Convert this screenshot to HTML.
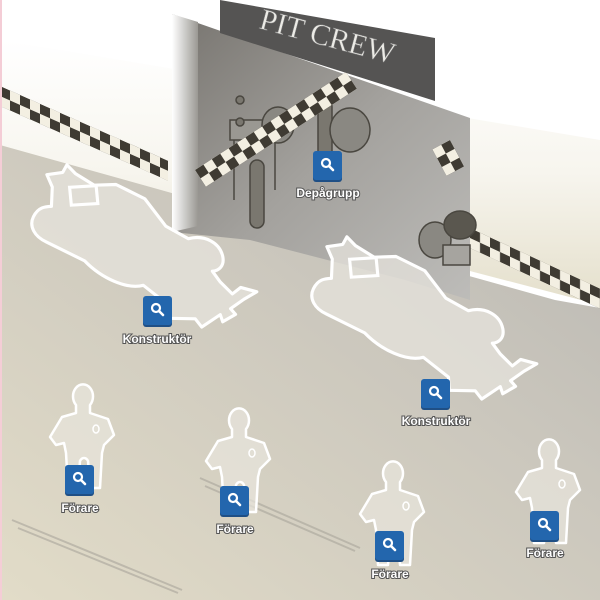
<!DOCTYPE html>
<html><head><meta charset="utf-8"><style>
html,body{margin:0;padding:0;width:600px;height:600px;overflow:hidden;background:#fff}
svg{display:block}
.lbl{font-family:"Liberation Sans",sans-serif;font-size:12px;font-weight:bold;fill:#fff;text-anchor:middle;paint-order:stroke;stroke:#555;stroke-width:2px}
</style></head><body>
<svg width="600" height="600" viewBox="0 0 600 600">
<defs>
<linearGradient id="floor" x1="0" y1="1" x2="1" y2="0">
<stop offset="0" stop-color="#e2dcc8"/><stop offset="0.6" stop-color="#cbc7bd"/><stop offset="1" stop-color="#b9b7b2"/>
</linearGradient>
<linearGradient id="wall" x1="0" y1="0" x2="0" y2="1">
<stop offset="0" stop-color="#fff"/><stop offset="0.5" stop-color="#f7f5ee"/><stop offset="1" stop-color="#e4dfcb"/>
</linearGradient>
<linearGradient id="gar" x1="0" y1="0" x2="1" y2="1">
<stop offset="0" stop-color="#77746f"/><stop offset="0.5" stop-color="#a3a19d"/><stop offset="1" stop-color="#bdbcb9"/>
</linearGradient>
<linearGradient id="lw" x1="0" y1="0" x2="1" y2="0">
<stop offset="0" stop-color="#fff"/><stop offset="1" stop-color="#9a9893"/>
</linearGradient>
<pattern id="chk" width="20" height="20" patternUnits="userSpaceOnUse">
<rect width="20" height="20" fill="#f3efe2"/><rect width="10" height="10" fill="#3f3b33"/><rect x="10" y="10" width="10" height="10" fill="#3f3b33"/>
</pattern>
<g id="btn"><rect x="-14" y="-12" width="29" height="29" rx="3" fill="#1f4f85"/><rect x="-14" y="-14" width="29" height="29" rx="3" fill="#2366ad"/>
<circle cx="-1" cy="-2" r="4" fill="none" stroke="#fff" stroke-width="2.2"/><line x1="2" y1="1" x2="6" y2="5" stroke="#fff" stroke-width="2.6" stroke-linecap="round"/></g>
<g id="man"><path d="M-6,22 L-6,30 L-20,34 L-32,54 L-26,62 L-18,60 L-16,70 L-14,105 L-4,105 L-2,78 C0,74 4,74 6,78 L8,105 L18,105 L20,70 L22,62 L32,52 L26,36 L8,30 L8,22 A10,12 0 1 0 -6,22Z" fill="#e8e5dd" fill-opacity="0.7" stroke="#fff" stroke-width="2.5" stroke-linejoin="round"/><ellipse cx="14" cy="46" rx="3" ry="4" fill="none" stroke="#fff" stroke-width="1.5"/></g>
<g id="car"><path d="M-120,-50 l14,-6 l2,-8 l10,6 l20,6 l20,-6 l30,6 l26,20 l24,6 c14,-8 30,-4 36,8 c4,8 0,14 -6,16 l10,8 l14,8 l6,-8 l16,0 l-10,10 l-10,12 l6,4 l-10,10 l-4,-6 l-14,16 l-8,-6 l-24,6 l-4,-12 l-28,-12 c-14,8 -40,4 -60,-8 l-40,-8 c-12,-2 -20,-10 -18,-20 c2,-10 8,-12 14,-14 l-4,-18z" fill="#e6e3dc" fill-opacity="0.75" stroke="#fff" stroke-width="3" stroke-linejoin="round"/><path d="M-96,-44 l24,-8 l6,16 l-24,8z" fill="none" stroke="#fff" stroke-width="3"/></g>
</defs>
<rect width="600" height="600" fill="#fff"/>
<polygon points="0,40 600,140 600,305 0,148" fill="url(#wall)"/>
<polygon points="0,145 555,300 600,308 600,600 0,600" fill="url(#floor)"/>
<g transform="translate(0,86) skewY(24)"><rect x="0" y="0" width="168" height="20" fill="url(#chk)"/></g>
<g transform="translate(470,228) skewY(25)"><rect x="0" y="0" width="135" height="20" fill="url(#chk)"/></g>
<polygon points="172,14 470,118 470,300 405,280 250,240 172,232" fill="url(#gar)"/>
<polygon points="172,14 198,22 198,226 172,232" fill="url(#lw)"/>
<g stroke="#4a4740" fill="#7a776f" stroke-width="1.5">
<rect x="230" y="120" width="50" height="20" fill="#9a9892"/>
<line x1="234" y1="140" x2="234" y2="200"/><line x1="275" y1="140" x2="275" y2="190"/>
<rect x="250" y="160" width="14" height="68" rx="7"/>
<rect x="318" y="100" width="14" height="60" rx="7"/>
<ellipse cx="278" cy="125" rx="16" ry="18" fill="#8a8882"/>
<ellipse cx="350" cy="130" rx="20" ry="22" fill="#8a8882"/>
<ellipse cx="435" cy="240" rx="16" ry="18" fill="#8a8882"/>
<ellipse cx="460" cy="225" rx="16" ry="14" fill="#5a574f"/>
<rect x="443" y="245" width="27" height="20" fill="#a6a49f"/>
<circle cx="240" cy="100" r="4"/><circle cx="240" cy="122" r="4"/>
</g>
<g transform="translate(195,170) rotate(-33)"><rect x="0" y="0" width="180" height="20" fill="url(#chk)"/></g>
<g transform="translate(450,140) rotate(62)"><rect x="0" y="0" width="30" height="20" fill="url(#chk)"/></g>
<polygon points="220,0 435,38 435,101 220,33" fill="#555453"/>
<text x="0" y="0" transform="translate(258,28) rotate(15)" font-family="Liberation Serif,serif" font-size="30" fill="#ecebe6" stroke="#777" stroke-width="0.5">PIT CREW</text>
<g transform="translate(155,258) rotate(15) scale(1.05)"><use href="#car"/></g>
<g transform="translate(435,330) rotate(15) scale(1.05)"><use href="#car"/></g>
<g stroke="#a9a59b" stroke-width="2" fill="none" opacity="0.6">
<path d="M12,520 l170,70"/><path d="M18,528 l160,65"/><path d="M200,478 l160,70"/><path d="M205,486 l150,65"/>
</g>
<use href="#man" x="82" y="383"/>
<use href="#man" x="238" y="407"/>
<use href="#man" x="392" y="460"/>
<use href="#man" x="548" y="438"/>
<use href="#btn" x="327" y="165"/>
<use href="#btn" x="157" y="310"/>
<use href="#btn" x="435" y="393"/>
<use href="#btn" x="79" y="479"/>
<use href="#btn" x="234" y="500"/>
<use href="#btn" x="389" y="545"/>
<use href="#btn" x="544" y="525"/>
<text class="lbl" x="328" y="197">Depågrupp</text>
<text class="lbl" x="157" y="343">Konstruktör</text>
<text class="lbl" x="436" y="425">Konstruktör</text>
<text class="lbl" x="80" y="512">Förare</text>
<text class="lbl" x="235" y="533">Förare</text>
<text class="lbl" x="390" y="578">Förare</text>
<text class="lbl" x="545" y="557">Förare</text>
<rect x="0" y="0" width="2" height="600" fill="#f4cdd6"/>
</svg>
</body></html>
